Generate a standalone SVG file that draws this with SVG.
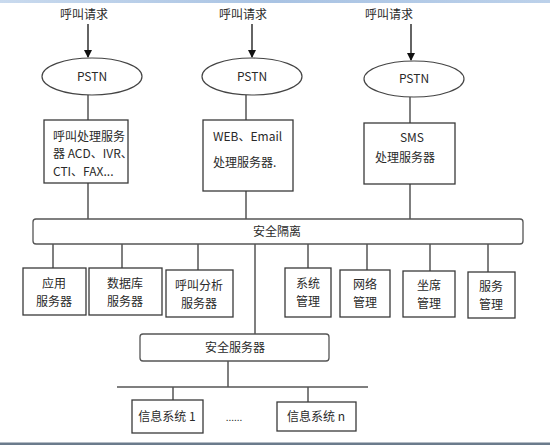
<svg xmlns="http://www.w3.org/2000/svg" width="550" height="445" viewBox="0 0 550 445">
<defs>
<linearGradient id="topbar" x1="0" y1="0" x2="1" y2="0">
<stop offset="0" stop-color="#c9daee"/><stop offset="0.5" stop-color="#a9c3e3"/><stop offset="1" stop-color="#bcd1ea"/>
</linearGradient>
<marker id="arr" markerWidth="8" markerHeight="8" refX="7" refY="4" orient="auto" markerUnits="userSpaceOnUse">
<path d="M0,0 L8,4 L0,8 Z" fill="#111"/>
</marker>
<style>
text{font-family:"Noto Sans CJK SC","Noto Sans",sans-serif;font-size:12px;fill:#2a2a2a}
.c{text-anchor:middle}
.box{fill:#fff;stroke:#3a3a3a;stroke-width:1.3}
.rbox{fill:#fff;stroke:#555;stroke-width:1.3}
.ell{fill:#fff;stroke:#444;stroke-width:1.2}
.ln{stroke:#555;stroke-width:1.5;fill:none}
.arrow{stroke:#111;stroke-width:1.3;fill:none}
</style>
</defs>
<rect x="0" y="0" width="550" height="445" fill="#fff"/>
<rect x="0" y="0" width="550" height="3" fill="url(#topbar)"/>
<rect x="0" y="442.5" width="550" height="2.5" fill="#6b7b8c"/>

<g id="connectors">
<line class="arrow" x1="88" y1="24" x2="88" y2="57" marker-end="url(#arr)"/>
<line class="arrow" x1="252" y1="24" x2="252" y2="57" marker-end="url(#arr)"/>
<line class="arrow" x1="411" y1="24" x2="411" y2="60" marker-end="url(#arr)"/>
<line class="ln" x1="88" y1="95" x2="88" y2="120"/>
<line class="ln" x1="246" y1="95" x2="246" y2="120"/>
<line class="ln" x1="410" y1="97" x2="410" y2="123"/>
<line class="ln" x1="88" y1="183" x2="88" y2="219"/>
<line class="ln" x1="246" y1="191" x2="246" y2="219"/>
<line class="ln" x1="410" y1="184" x2="410" y2="219"/>
<line class="ln" x1="53" y1="244" x2="53" y2="268"/>
<line class="ln" x1="122" y1="244" x2="122" y2="268"/>
<line class="ln" x1="198" y1="244" x2="198" y2="270"/>
<line class="ln" x1="308" y1="244" x2="308" y2="268"/>
<line class="ln" x1="367" y1="244" x2="367" y2="270"/>
<line class="ln" x1="430" y1="244" x2="430" y2="271"/>
<line class="ln" x1="488" y1="244" x2="488" y2="272"/>
<line class="ln" x1="255" y1="244" x2="255" y2="334"/>
<line class="ln" x1="228" y1="361" x2="228" y2="387"/>
<line class="ln" x1="117" y1="387" x2="368" y2="387"/>
<line class="ln" x1="173" y1="387" x2="173" y2="400"/>
<line class="ln" x1="308" y1="387" x2="308" y2="402"/>
</g>

<g id="req1"><text class="c" x="84" y="19">呼叫请求</text></g>
<g id="req2"><text class="c" x="243" y="19">呼叫请求</text></g>
<g id="req3"><text class="c" x="389" y="19">呼叫请求</text></g>

<g id="pstn1"><ellipse class="ell" cx="92" cy="76.5" rx="50" ry="18.5"/><text class="c" x="92" y="81">PSTN</text></g>
<g id="pstn2"><ellipse class="ell" cx="252" cy="76.5" rx="50" ry="18.5"/><text class="c" x="252" y="81">PSTN</text></g>
<g id="pstn3"><ellipse class="ell" cx="414" cy="79" rx="50" ry="18"/><text class="c" x="414" y="83">PSTN</text></g>

<g id="callsrv"><rect class="box" x="44" y="120" width="84" height="63"/>
<text x="53" y="141">呼叫处理服务</text>
<text x="53" y="158">器 ACD、IVR、</text>
<text x="53" y="176">CTI、FAX...</text></g>
<g id="websrv"><rect class="box" x="203" y="120" width="90" height="71"/>
<text x="213" y="141">WEB、Email</text>
<text x="213" y="167">处理服务器.</text></g>
<g id="smssrv"><rect class="box" x="364" y="123" width="91" height="61"/>
<text class="c" x="412" y="142">SMS</text>
<text x="375" y="162">处理服务器</text></g>

<g id="isolation"><rect class="rbox" x="33" y="219" width="490" height="25" rx="3"/>
<text class="c" x="277" y="236">安全隔离</text></g>

<g id="appsrv"><rect class="box" x="23" y="268" width="63" height="47"/>
<text class="c" x="54" y="288">应用</text><text class="c" x="54" y="306">服务器</text></g>
<g id="dbsrv"><rect class="box" x="89" y="268" width="73" height="47"/>
<text class="c" x="125" y="288">数据库</text><text class="c" x="125" y="306">服务器</text></g>
<g id="anasrv"><rect class="box" x="166" y="270" width="67" height="47"/>
<text class="c" x="199" y="290">呼叫分析</text><text class="c" x="199" y="308">服务器</text></g>
<g id="sysmgmt"><rect class="box" x="285" y="268" width="46" height="49"/>
<text class="c" x="308" y="288">系统</text><text class="c" x="308" y="306">管理</text></g>
<g id="netmgmt"><rect class="box" x="340" y="270" width="50" height="47"/>
<text class="c" x="365" y="289">网络</text><text class="c" x="365" y="307">管理</text></g>
<g id="seatmgmt"><rect class="box" x="403" y="271" width="52" height="46"/>
<text class="c" x="429" y="290">坐席</text><text class="c" x="429" y="308">管理</text></g>
<g id="svcmgmt"><rect class="box" x="468" y="272" width="47" height="46"/>
<text class="c" x="491" y="291">服务</text><text class="c" x="491" y="309">管理</text></g>

<g id="secsrv"><rect class="rbox" x="140" y="334" width="189" height="27" rx="3"/>
<text class="c" x="235" y="352">安全服务器</text></g>

<g id="info1"><rect class="box" x="132" y="400" width="71" height="33"/>
<text class="c" x="167" y="421">信息系统 1</text></g>
<g id="dots"><text class="c" x="234" y="421" style="font-size:10px">......</text></g>
<g id="infon"><rect class="box" x="277" y="402" width="79" height="29"/>
<text class="c" x="316" y="421">信息系统 n</text></g>
</svg>
